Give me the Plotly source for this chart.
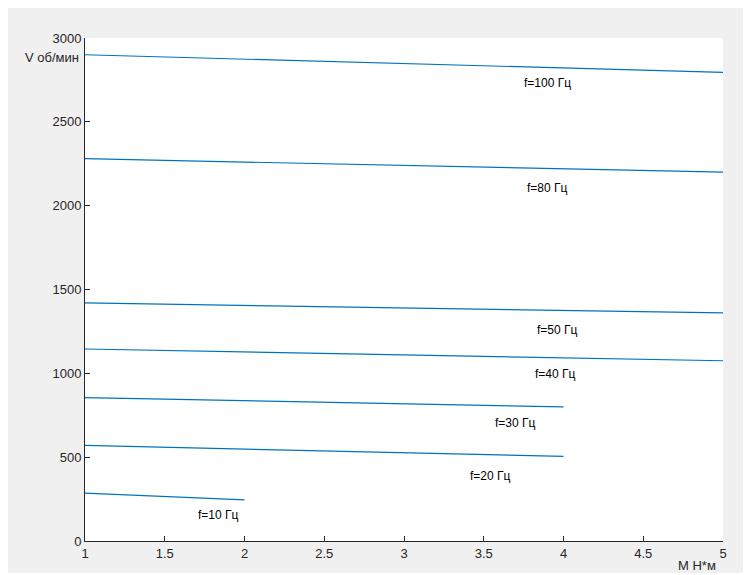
import plotly.graph_objects as go

# Data
torque_full = [1, 5]
torque_mid = [1, 4]
torque_low = [1, 2]
speed_100 = [2900, 2795]
speed_80 = [2280, 2200]
speed_50 = [1420, 1360]
speed_40 = [1145, 1075]
speed_30 = [855, 800]
speed_20 = [570, 505]
speed_10 = [285, 245]

series = [
    (torque_full, speed_100),
    (torque_full, speed_80),
    (torque_full, speed_50),
    (torque_full, speed_40),
    (torque_mid, speed_30),
    (torque_mid, speed_20),
    (torque_low, speed_10),
]

label_texts = ["f=100 Гц", "f=80 Гц", "f=50 Гц", "f=40 Гц", "f=30 Гц", "f=20 Гц", "f=10 Гц"]
label_x = [3.90, 3.90, 3.96, 3.95, 3.70, 3.54, 1.84]
label_y = [2732, 2105, 1258, 996, 704, 388, 155]

x_ticks = [1, 1.5, 2, 2.5, 3, 3.5, 4, 4.5, 5]
y_ticks = [0, 500, 1000, 1500, 2000, 2500, 3000]

fig = go.Figure()
for xs, ys in series:
    fig.add_trace(go.Scatter(x=xs, y=ys, mode="lines",
                             line=dict(color="#0072BD", width=1.2),
                             showlegend=False, hoverinfo="skip"))

for t, x, y in zip(label_texts, label_x, label_y):
    fig.add_annotation(x=x, y=y, text=t, showarrow=False,
                       font=dict(family="Liberation Sans, Arial", size=12, color="#000000"),
                       xanchor="center", yanchor="middle")

# page offset of 8px (body margin)
OFF = 8
W, H = 743, 565
L, R, T, B = 77, 28, 30, 32
pw, ph = W - L - R, H - T - B

def px_x(p):
    return (p - OFF - L) / pw

def px_y(p):
    return (H - B - (p - OFF)) / ph

fig.add_annotation(xref="paper", yref="paper", x=px_x(81), y=px_y(58),
                   text="V об/мин", showarrow=False, xanchor="right", yanchor="middle",
                   font=dict(family="Liberation Sans, Arial", size=13, color="#262626"))
fig.add_annotation(xref="paper", yref="paper", x=px_x(697), y=px_y(565),
                   text="M Н*м", showarrow=False, xanchor="center", yanchor="middle",
                   font=dict(family="Liberation Sans, Arial", size=13, color="#262626"))

axis_common = dict(showgrid=False, zeroline=False, showline=True, linecolor="#262626",
                   linewidth=1, ticks="inside", ticklen=5, tickcolor="#262626",
                   tickfont=dict(family="Liberation Sans, Arial", size=13, color="#262626"),
                   mirror=False)

fig.update_xaxes(range=[1, 5], tickvals=x_ticks,
                 ticktext=[("%g" % v) for v in x_ticks], **axis_common)
fig.update_yaxes(range=[0, 3000], tickvals=y_ticks,
                 ticktext=[str(v) for v in y_ticks], **axis_common)

fig.update_layout(width=W, height=H,
                  margin=dict(l=L, r=R, t=T, b=B),
                  paper_bgcolor="#f0f0f0", plot_bgcolor="#ffffff",
                  showlegend=False)

fig.write_html("out.html")
